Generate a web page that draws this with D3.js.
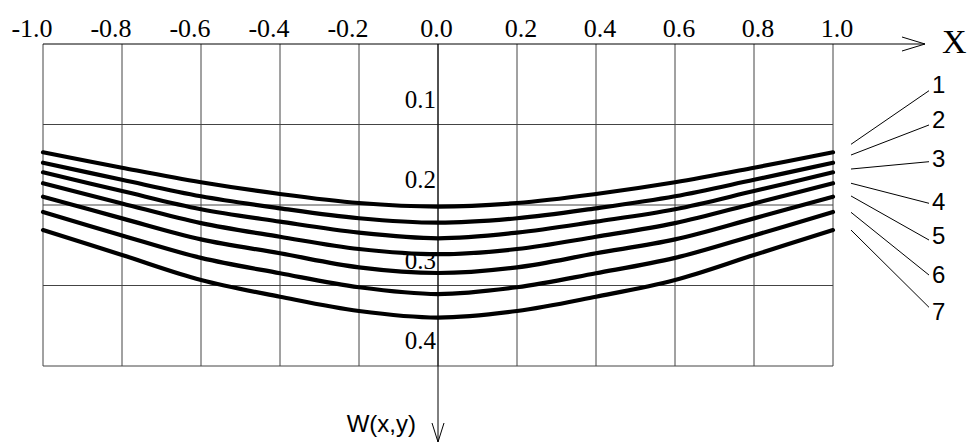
<!DOCTYPE html>
<html>
<head>
<meta charset="utf-8">
<script src="https://cdn.jsdelivr.net/npm/d3@7"></script>
<style>
  html, body { margin: 0; padding: 0; background: #fff; }
  svg { display: block; }
  .serif { font-family: "Liberation Serif", "Times New Roman", serif; }
  .sans { font-family: "Liberation Sans", Arial, sans-serif; }
</style>
</head>
<body>
<svg id="chart" width="975" height="444"></svg>
<script>
// ---- data ----
const xValues = [-1.0, -0.8, -0.6, -0.4, -0.2, 0.0, 0.2, 0.4, 0.6, 0.8, 1.0];
const xTickLabels = ["-1.0", "-0.8", "-0.6", "-0.4", "-0.2", "0.0", "0.2", "0.4", "0.6", "0.8", "1.0"];
const yTicks = [0.1, 0.2, 0.3, 0.4];
const yTickLabels = ["0.1", "0.2", "0.3", "0.4"];
const curveNames = ["1", "2", "3", "4", "5", "6", "7"];
const curve1 = [0.1345, 0.1537, 0.1718, 0.1863, 0.1975, 0.2019, 0.1975, 0.1863, 0.1718, 0.1537, 0.1345];
const curve2 = [0.1475, 0.1687, 0.1892, 0.2041, 0.2165, 0.2220, 0.2165, 0.2041, 0.1892, 0.1687, 0.1475];
const curve3 = [0.1594, 0.1827, 0.2053, 0.2207, 0.2344, 0.2414, 0.2344, 0.2207, 0.2053, 0.1827, 0.1594];
const curve4 = [0.1730, 0.1981, 0.2225, 0.2394, 0.2547, 0.2611, 0.2547, 0.2394, 0.2225, 0.1981, 0.1730];
const curve5 = [0.1897, 0.2166, 0.2427, 0.2600, 0.2774, 0.2845, 0.2774, 0.2600, 0.2427, 0.2166, 0.1897];
const curve6 = [0.2087, 0.2378, 0.2657, 0.2848, 0.3022, 0.3106, 0.3022, 0.2848, 0.2657, 0.2378, 0.2087];
const curve7 = [0.2311, 0.2621, 0.2932, 0.3139, 0.3317, 0.3398, 0.3317, 0.3139, 0.2932, 0.2621, 0.2311];
const curves = [curve1, curve2, curve3, curve4, curve5, curve6, curve7];
// leader lines for curve numbers (in W units)
const leaderFrom = [0.1246, 0.1379, 0.1553, 0.1730, 0.1888, 0.2091, 0.2311];
const leaderTo   = [0.0580, 0.1006, 0.1462, 0.1979, 0.2435, 0.2870, 0.3271];
const labelAt    = [0.0609, 0.1043, 0.1528, 0.2062, 0.2484, 0.2969, 0.3429];

// ---- layout ----
const svg = d3.select("#chart");
const x = d3.scaleLinear().domain([-1, 1]).range([43, 833]);
const y = d3.scaleLinear().domain([0, 0.4]).range([44, 366]);

// grid
const grid = svg.append("g").attr("stroke", "#444").attr("stroke-width", 1);
grid.selectAll("line.v").data(xValues).join("line")
  .attr("x1", d => x(d)).attr("x2", d => x(d))
  .attr("y1", y(0)).attr("y2", y(0.4));
grid.selectAll("line.h").data(yTicks).join("line")
  .attr("x1", x(-1)).attr("x2", x(1))
  .attr("y1", d => y(d)).attr("y2", d => y(d));

// x axis (top) with arrow
const ax = svg.append("g").attr("stroke", "#000").attr("stroke-width", 1).attr("fill", "none");
const xEnd = x(1) + 92;
ax.append("line").attr("x1", x(-1)).attr("x2", xEnd).attr("y1", y(0)).attr("y2", y(0));
ax.append("path").attr("d", `M${xEnd - 23},${y(0) - 7}L${xEnd},${y(0)}L${xEnd - 23},${y(0) + 7}`);
// W axis (down) with arrow
const yEnd = 442;
ax.append("line").attr("x1", x(0)).attr("x2", x(0)).attr("y1", y(0)).attr("y2", yEnd);
ax.append("path").attr("d", `M${x(0) - 6},${yEnd - 19}L${x(0)},${yEnd}L${x(0) + 6},${yEnd - 19}`);

// x tick labels
svg.append("g").attr("class", "serif").selectAll("text").data(xValues).join("text")
  .attr("x", d => x(d) + (d < 0 ? -11 : d > 0 ? 4 : -1.5))
  .attr("y", 36.5)
  .attr("text-anchor", "middle")
  .attr("font-size", 26)
  .text((d, i) => xTickLabels[i]);

// y tick labels
svg.append("g").attr("class", "serif").selectAll("text").data(yTicks).join("text")
  .attr("x", x(0) - 2)
  .attr("y", d => y(d) - 17)
  .attr("text-anchor", "end")
  .attr("font-size", 25)
  .text((d, i) => yTickLabels[i]);

// axis titles
svg.append("text").attr("class", "serif").attr("x", xEnd + 17).attr("y", 53)
  .attr("font-size", 34).text("X");
svg.append("text").attr("class", "sans").attr("x", x(0) - 22).attr("y", 432)
  .attr("text-anchor", "end")
  .attr("font-size", 24).text("W(x,y)");

// curves
const line = d3.line()
  .x((d, i) => x(xValues[i]))
  .y(d => y(d))
  .curve(d3.curveCatmullRom);
svg.append("g").selectAll("path").data(curves).join("path")
  .attr("d", d => line(d))
  .attr("fill", "none").attr("stroke", "#000")
  .attr("stroke-width", 4.2).attr("stroke-linecap", "round");

// leader lines and curve numbers
svg.append("g").attr("stroke", "#000").attr("stroke-width", 1)
  .selectAll("line").data(curveNames).join("line")
  .attr("x1", x(1) + 18).attr("y1", (d, i) => y(leaderFrom[i]))
  .attr("x2", x(1) + 96).attr("y2", (d, i) => y(leaderTo[i]));
svg.append("g").attr("class", "sans").selectAll("text").data(curveNames).join("text")
  .attr("x", x(1) + 99)
  .attr("y", (d, i) => y(labelAt[i]))
  .attr("font-size", 24)
  .text(d => d);
</script>
</body>
</html>
